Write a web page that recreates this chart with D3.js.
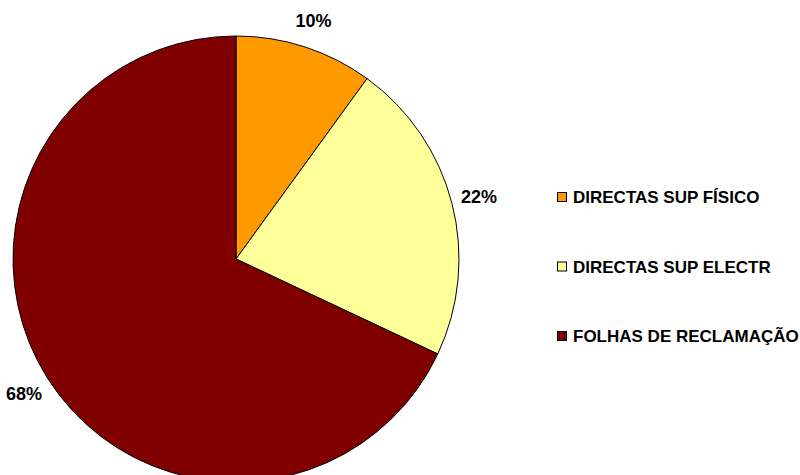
<!DOCTYPE html>
<html>
<head>
<meta charset="utf-8">
<script src="https://cdn.jsdelivr.net/npm/d3@7"></script>
<style>
  body { margin: 0; background: #fff; }
  text { font-family: Arial, "Liberation Sans", sans-serif; font-weight: bold; fill: #000; }
</style>
</head>
<body>
<div id="chart"></div>
<script>
// dados do gráfico
const categorias = ["DIRECTAS SUP FÍSICO", "DIRECTAS SUP ELECTR", "FOLHAS DE RECLAMAÇÃO"];
const percentagens = [10, 22, 68];
const cores = ["#FF9900", "#FFFF99", "#800000"];

const width = 800, height = 475;
const cx = 236, cy = 259, raio = 223, raioLabel = 251;

const svg = d3.select("#chart")
    .append("svg")
    .attr("width", width)
    .attr("height", height);

const dados = categorias.map((c, i) => ({ nome: c, valor: percentagens[i], cor: cores[i] }));

const pie = d3.pie()
    .value(d => d.valor)
    .sort(null);

const arc = d3.arc().innerRadius(0).outerRadius(raio);
const arcLabel = d3.arc().innerRadius(raioLabel).outerRadius(raioLabel);

const g = svg.append("g")
    .attr("transform", `translate(${cx},${cy})`);

g.selectAll("path")
    .data(pie(dados))
    .enter()
    .append("path")
    .attr("d", arc)
    .attr("fill", d => d.data.cor)
    .attr("stroke", "#000")
    .attr("stroke-width", 1);

g.selectAll(".label")
    .data(pie(dados))
    .enter()
    .append("text")
    .attr("class", "label")
    .attr("transform", d => `translate(${arcLabel.centroid(d)})`)
    .attr("text-anchor", "middle")
    .attr("dy", "0.35em")
    .style("font-size", "18px")
    .text(d => d.data.valor + "%");

// legenda
const legenda = svg.append("g")
    .attr("transform", "translate(557,197)");

const itens = legenda.selectAll("g")
    .data(dados)
    .enter()
    .append("g")
    .attr("transform", (d, i) => `translate(0,${i * 69.5})`);

itens.append("rect")
    .attr("x", 0.5)
    .attr("y", -4.5)
    .attr("width", 9)
    .attr("height", 9)
    .attr("fill", d => d.cor)
    .attr("stroke", "#000")
    .attr("stroke-width", 1);

itens.append("text")
    .attr("x", 16)
    .attr("dy", "0.36em")
    .style("font-size", "17px")
    .text(d => d.nome);
</script>
</body>
</html>
